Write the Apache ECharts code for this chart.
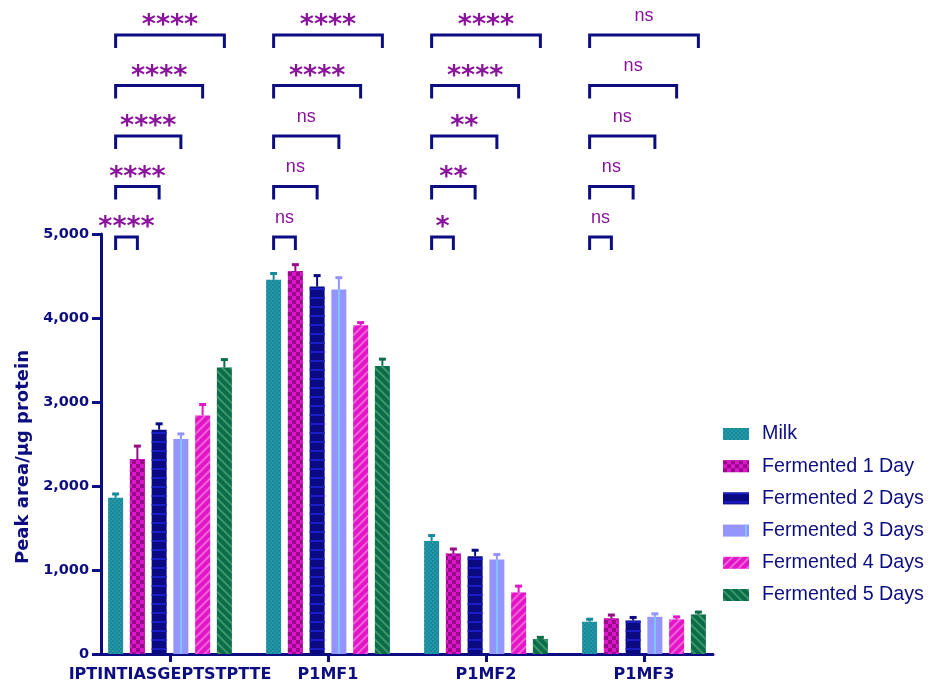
<!DOCTYPE html>
<html><head><meta charset="utf-8">
<script src="https://cdn.jsdelivr.net/npm/echarts@6/dist/echarts.min.js"></script>
<style>html,body{margin:0;padding:0;background:#fff}#c{width:934px;height:691px}</style>
</head><body><div id="c"></div>
<script>
// ---- data ----
const categories = ['IPTINTIASGEPTSTPTTE', 'P1MF1', 'P1MF2', 'P1MF3'];
const seriesNames = ['Milk', 'Fermented 1 Day', 'Fermented 2 Days', 'Fermented 3 Days', 'Fermented 4 Days', 'Fermented 5 Days'];
const milk    = [1860, 4455, 1345, 384];
const day1    = [2320, 4560, 1195, 424];
const day2    = [2670, 4375, 1165, 400];
const day3    = [2560, 4340, 1125, 443];
const day4    = [2840, 3915, 733, 412];
const day5    = [3410, 3430, 178, 471];
const milkErr = [45, 75, 65, 30];
const day1Err = [155, 75, 55, 40];
const day2Err = [70, 130, 70, 35];
const day3Err = [60, 140, 60, 35];
const day4Err = [130, 30, 75, 30];
const day5Err = [95, 80, 20, 28];
// Milk vs Day 1..5 per category
const sigGroup1 = ['****', '****', '****', '****', '****'];
const sigGroup2 = ['ns', 'ns', 'ns', '****', '****'];
const sigGroup3 = ['*', '**', '**', '****', '****'];
const sigGroup4 = ['ns', 'ns', 'ns', 'ns', 'ns'];
const yTicks = [0, 1000, 2000, 3000, 4000, 5000];

// ---- styling ----
const NAVY = '#0d0d82';
const PURPLE = '#8a139c';
const means = [milk, day1, day2, day3, day4, day5];
const errs = [milkErr, day1Err, day2Err, day3Err, day4Err, day5Err];
const sig = [sigGroup1, sigGroup2, sigGroup3, sigGroup4];
const colors = ['#168a9a', '#980a88', '#0a0a82', '#9494fc', '#e414c8', '#0a6c48'];
const decals = [
  { symbol: 'rect', symbolSize: 1, color: 'rgba(90,200,215,0.22)', dashArrayX: [[2, 2], [0, 2, 2, 0]], dashArrayY: [2, 0] },
  { symbol: 'rect', symbolSize: 1, color: '#dc16cc', dashArrayX: [[4, 4], [0, 4, 4, 0]], dashArrayY: [4, 0] },
  { symbol: 'rect', symbolSize: 1, color: '#1c1cc4', dashArrayX: [1, 0], dashArrayY: [1.5, 6.5] },
  { symbol: 'rect', symbolSize: 1, color: '#7cc6ff', dashArrayX: [[0, 22, 2, 134]], dashArrayY: [1, 0] },
  { symbol: 'rect', symbolSize: 1, color: 'rgba(255,190,240,0.45)', dashArrayX: [1, 0], dashArrayY: [1.5, 3.5], rotation: -Math.PI / 4 },
  { symbol: 'rect', symbolSize: 1, color: 'rgba(80,170,120,0.7)', dashArrayX: [1, 0], dashArrayY: [1.5, 3.5], rotation: Math.PI / 4 }
];
const BAR_W = 15, GAP = 0.45, N = 6;
function barOffset(i) { return (i - (N - 1) / 2) * BAR_W * (1 + GAP); }

const series = [];
seriesNames.forEach((name, i) => {
  series.push({
    name, type: 'bar', xAxisIndex: 0, yAxisIndex: 0,
    barWidth: BAR_W, barGap: (GAP * 100) + '%',
    itemStyle: { color: colors[i], decal: decals[i] },
    data: means[i], z: 2
  });
});
seriesNames.forEach((name, i) => {
  series.push({
    name: name + ' err', type: 'custom', xAxisIndex: 0, yAxisIndex: 0, silent: true, z: 3,
    encode: { x: 0, y: 1 },
    data: categories.map((c, g) => [g, means[i][g], errs[i][g]]),
    renderItem: (params, api) => {
      const g = api.value(0), m = api.value(1), e = api.value(2);
      const base = api.coord([g, m]);
      const top = api.coord([g, m + e]);
      const x = base[0] + barOffset(i);
      return { type: 'group', children: [
        { type: 'line', shape: { x1: x, y1: base[1], x2: x, y2: top[1] }, style: { stroke: colors[i], lineWidth: 2 } },
        { type: 'rect', shape: { x: x - 3.5, y: top[1] - 1.5, width: 7, height: 3 }, style: { fill: colors[i] } }
      ] };
    }
  });
});
// significance brackets
const bracketData = [];
categories.forEach((c, g) => { for (let k = 1; k <= 5; k++) bracketData.push([g, k]); });
series.push({
  name: 'brackets', type: 'custom', xAxisIndex: 2, yAxisIndex: 2, silent: true, clip: false,
  encode: { x: 0, y: 1 },
  data: bracketData,
  renderItem: (params, api) => {
    const g = api.value(0), k = api.value(1);
    const p = api.coord([g, k]);
    const xL = p[0] + barOffset(0), xR = p[0] + barOffset(k), y = p[1];
    const label = sig[g][k - 1];
    const stars = label !== 'ns';
    return { type: 'group', children: [
      { type: 'polyline', shape: { points: [[xL, y + 13], [xL, y], [xR, y], [xR, y + 13]] },
        style: { stroke: NAVY, lineWidth: 3, fill: null, lineJoin: 'miter' } },
      { type: 'text', x: (xL + xR) / 2, y: stars ? y - 8.6 : y - 19.4,
        style: { text: label, fill: PURPLE, align: 'center', verticalAlign: 'middle',
          font: stars ? 'bold 27px "DejaVu Sans"' : '18px "Liberation Sans"' } }
    ] };
  }
});

const option = {
  animation: false,
  backgroundColor: '#fff',
  grid: [
    { left: 91, right: 211, top: 234, bottom: 37 },
    { left: 101, right: 221, top: 234, bottom: 37 },
    { left: 91, right: 211, top: 35, bottom: 403.5 }
  ],
  legend: {
    data: seriesNames, orient: 'vertical', left: 723, top: 424, padding: 0,
    itemWidth: 26, itemHeight: 12, itemGap: 12.2, icon: 'rect',
    textStyle: { fontFamily: 'Liberation Sans', fontSize: 19.7, lineHeight: 19, color: NAVY, padding: [0, 0, 0, 8] }
  },
  xAxis: [
    { type: 'category', gridIndex: 0, data: categories,
      axisLine: { show: false },
      axisTick: { show: true, alignWithLabel: true, length: 8, lineStyle: { color: NAVY, width: 3 } },
      axisLabel: { interval: 0, margin: 13, fontFamily: 'DejaVu Sans', fontWeight: 'bold', fontSize: 16, color: NAVY } },
    { type: 'value', gridIndex: 1, min: 0, max: 1,
      axisLine: { show: true, lineStyle: { color: NAVY, width: 3 } },
      axisTick: { show: false }, axisLabel: { show: false }, splitLine: { show: false } },
    { type: 'category', gridIndex: 2, data: categories, show: false }
  ],
  yAxis: [
    { type: 'value', gridIndex: 0, min: 0, max: 5000, show: false, splitLine: { show: false } },
    { type: 'value', gridIndex: 1, min: yTicks[0], max: yTicks[yTicks.length - 1], interval: 1000,
      axisLine: { show: true, lineStyle: { color: NAVY, width: 3 } },
      axisTick: { show: true, length: 9, lineStyle: { color: NAVY, width: 3 } },
      axisLabel: { margin: 12, fontFamily: 'DejaVu Sans', fontWeight: 'bold', fontSize: 14.5, color: NAVY,
        formatter: v => v.toLocaleString('en-US') },
      splitLine: { show: false },
      name: 'Peak area/µg protein', nameLocation: 'middle', nameGap: 66, nameRotate: 90,
      nameTextStyle: { fontFamily: 'DejaVu Sans', fontWeight: 'bold', fontSize: 18, color: NAVY, padding: [0, 26, 0, 0] } },
    { type: 'value', gridIndex: 2, min: 0, max: 5, show: false, splitLine: { show: false } }
  ],
  series
};
const chart = echarts.init(document.getElementById('c'));
chart.setOption(option);
</script></body></html>
